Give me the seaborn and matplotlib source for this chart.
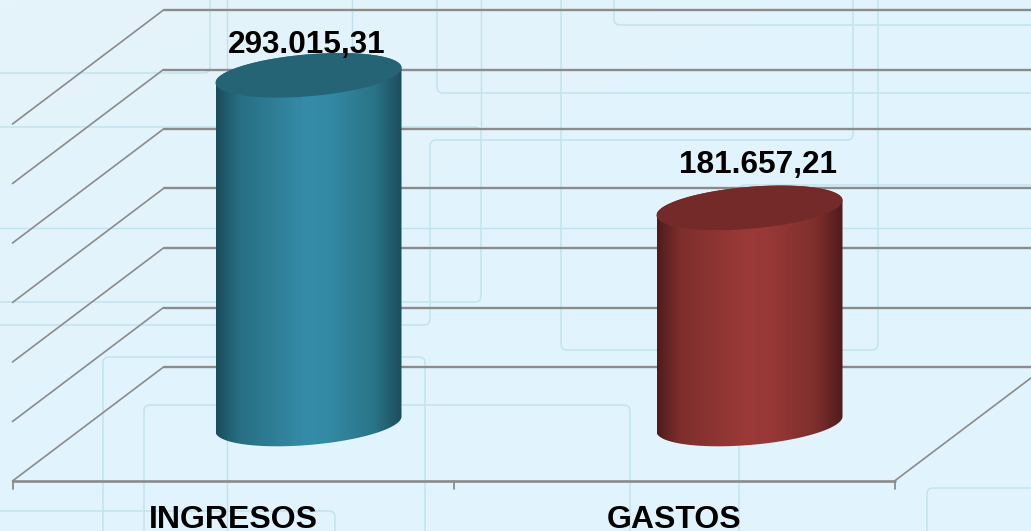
import numpy as np
import pandas as pd
import seaborn as sns
import matplotlib.pyplot as plt
from matplotlib.colors import LinearSegmentedColormap
from matplotlib.patches import PathPatch, Polygon
from matplotlib.path import Path

# Datos
conceptos = ["INGRESOS", "GASTOS"]
valores = [293015.31, 181657.21]
etiquetas = ["293.015,31", "181.657,21"]
y_ticks = [0, 50000, 100000, 150000, 200000, 250000, 300000]

# Colores del cilindro: borde, medio, borde
tonos = [
    ["#1b4c5b", "#276e82", "#358ca8", "#338aa5", "#2a7488", "#1c4d5b"],
    ["#4e1c1b", "#7d2e2c", "#9b3a38", "#983937", "#7f2f2d", "#4e1c1b"],
]
tapas = ["#246474", "#732a28"]
GRIS = "#8b8b8b"

# Escala en pixeles
W, H = 1031, 531
PX_CAT = 441.0
PX_VAL = 59.5 / 50000
X0_PX, Y0_PX = 308.5, 424.0
DX = 75.5 / PX_CAT
DY = 57.0 / PX_VAL

# Lineas decorativas del fondo (pixeles)
lineas_fondo = [
    [(-20, 73), (210, 73), (210, -20)],
    [(-20, 127), (481, 127), (481, 302), (-20, 302)],
    [(352, -20), (352, 302)],
    [(481, -20), (481, 127)],
    [(-20, 228), (1050, 228)],
    [(-20, 325), (430, 325), (430, 140), (853, 140), (853, -20)],
    [(227, -20), (227, 550)],
    [(437, -20), (437, 93), (1050, 93)],
    [(614, -20), (614, 25), (1050, 25)],
    [(561, -20), (561, 350), (878, 350), (878, -20)],
    [(739, 550), (739, 185), (1050, 185)],
    [(103, 550), (103, 357), (425, 357), (425, 550)],
    [(144, 550), (144, 405), (630, 405), (630, 550)],
    [(-20, 511), (335, 511), (335, 550)],
    [(927, 550), (927, 488), (1050, 488)],
]


def esquinas(puntos, r=6):
    verts = [puntos[0]]
    codes = [Path.MOVETO]
    for i in range(1, len(puntos) - 1):
        p0, p1, p2 = (np.array(puntos[j], dtype=float) for j in (i - 1, i, i + 1))
        a = p1 - r * (p1 - p0) / np.linalg.norm(p1 - p0)
        b = p1 + r * (p2 - p1) / np.linalg.norm(p2 - p1)
        verts += [tuple(a), tuple(p1), tuple(b)]
        codes += [Path.LINETO, Path.CURVE3, Path.CURVE3]
    verts.append(puntos[-1])
    codes.append(Path.LINETO)
    return Path(verts, codes)


sns.set_theme(style="white")
plt.rcParams["font.family"] = ["Liberation Sans", "DejaVu Sans"]

fig = plt.figure(figsize=(W / 100, H / 100), dpi=100)

# Fondo
bg = fig.add_axes([0, 0, 1, 1])
fondo = LinearSegmentedColormap.from_list("fondo", ["#e5f3fa", "#e1f4fd", "#e1f4fd"])
gx, gy = np.meshgrid(np.linspace(0, 1, 64), np.linspace(0, 1, 64))
bg.imshow((gx + gy) / 2, cmap=fondo, extent=[0, W, H, 0], aspect="auto")
for pts in lineas_fondo:
    bg.add_patch(PathPatch(esquinas(pts), fc="none", ec="#c0e2ed", lw=1.0))
bg.set_xlim(0, W)
bg.set_ylim(H, 0)
bg.axis("off")

# Barras
ax = fig.add_axes([0, 0, 1, 1], facecolor="none")
df = pd.DataFrame({"concepto": conceptos, "valor": valores})
sns.barplot(data=df, x="concepto", y="valor", hue="concepto", width=186 / PX_CAT,
            palette=[t[2] for t in tonos], legend=False, ax=ax)

# Rejilla: pared del fondo, paredes laterales, suelo
x_izq, x_der = -0.5, 1.5
for v in y_ticks:
    ax.plot([x_izq + DX, x_der + DX], [v + DY, v + DY], color=GRIS, lw=1.7, zorder=1)
    ax.plot([x_izq - DX, x_izq + DX], [v - DY, v + DY], color=GRIS, lw=1.2, zorder=1)
ax.plot([x_der - DX, x_der + DX], [-DY, DY], color=GRIS, lw=1.2, zorder=1)
ax.plot([x_izq - DX, x_der - DX], [-DY, -DY], color=GRIS, lw=1.9, zorder=1)
for x in [-0.5, 0.5, 1.5]:
    ax.plot([x - DX, x - DX], [-DY, -DY - 8 / PX_VAL], color=GRIS, lw=1.3, zorder=1)

# Cilindros a partir de las barras de seaborn
b_el = 21 / PX_VAL
s_el = 7.5 / PX_VAL
for bar, tono, tapa in zip(ax.patches, tonos, tapas):
    bar.set_visible(False)
    xc = bar.get_x() + bar.get_width() / 2
    a = bar.get_width() / 2
    h = bar.get_height()
    t1 = np.linspace(np.pi, 2 * np.pi, 80)
    t2 = np.linspace(0, np.pi, 80)
    xs = np.r_[xc + a * np.cos(t1), xc + a * np.cos(t2)]
    ys = np.r_[s_el * np.cos(t1) + b_el * np.sin(t1), h + s_el * np.cos(t2) + b_el * np.sin(t2)]
    cuerpo = Polygon(np.c_[xs, ys], fc="none", ec="none", zorder=3)
    ax.add_patch(cuerpo)
    cmap = LinearSegmentedColormap.from_list(
        "c", list(zip([0, 0.12, 0.48, 0.6, 0.85, 1], tono)))
    im = ax.imshow(np.linspace(0, 1, 256)[None, :], cmap=cmap, aspect="auto", zorder=3,
                   extent=[xc - a, xc + a, -2 * b_el, h + 2 * b_el])
    im.set_clip_path(cuerpo)
    t = np.linspace(0, 2 * np.pi, 160)
    ax.fill(xc + a * np.cos(t), h + s_el * np.cos(t) + b_el * np.sin(t),
            color=tapa, lw=0, zorder=4)

# Textos
desp_etiqueta = [(-1.5 / PX_CAT, 22 / PX_VAL), (8 / PX_CAT, 35 / PX_VAL)]
for i, (v, txt, d) in enumerate(zip(valores, etiquetas, desp_etiqueta)):
    ax.text(i + d[0], v + d[1], txt, ha="center", va="baseline",
            fontsize=22.7, fontweight="bold", color="black", zorder=5)
for i, c in enumerate(conceptos):
    ax.text(i - DX, -DY - 47 / PX_VAL, c, ha="center", va="baseline",
            fontsize=23, fontweight="bold", color="black", zorder=5)

ax.set_xlim(-X0_PX / PX_CAT, (W - X0_PX) / PX_CAT)
ax.set_ylim((Y0_PX - H) / PX_VAL, Y0_PX / PX_VAL)
ax.axis("off")

fig.savefig("out.png", dpi=100)
